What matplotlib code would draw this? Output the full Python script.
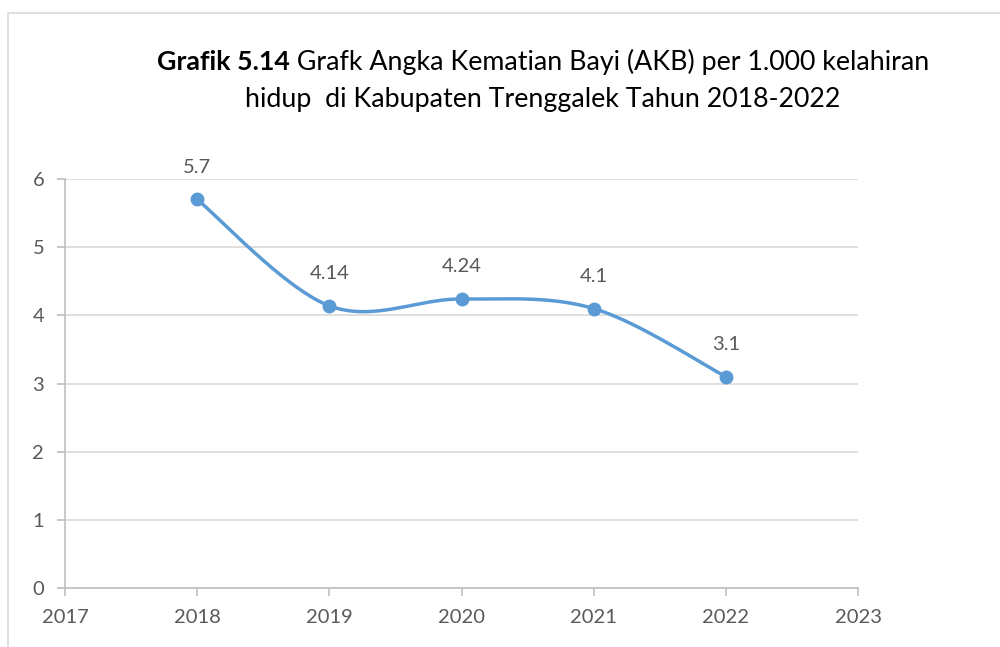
import numpy as np
import matplotlib
matplotlib.use("Agg")
import matplotlib.pyplot as plt
from matplotlib.patches import Rectangle

years = [2018, 2019, 2020, 2021, 2022]
akb = [5.7, 4.14, 4.24, 4.1, 3.1]
labels = ["5.7", "4.14", "4.24", "4.1", "3.1"]

BLUE = "#5B9BD5"
GRID = "#D9D9D9"
TXT = "#595959"
plt.rcParams['font.family'] = ['Lato', 'DejaVu Sans']


def smooth(x, y, n=40):
    # Excel-like smoothed line: cubic bezier with catmull-rom control points
    x = np.asarray(x, float); y = np.asarray(y, float)
    px, py = [], []
    for i in range(len(x) - 1):
        x0, y0 = (x[i-1], y[i-1]) if i > 0 else (x[i], y[i])
        x3, y3 = (x[i+2], y[i+2]) if i + 2 < len(x) else (x[i+1], y[i+1])
        c1x = x[i] + (x[i+1] - x0) / 6; c1y = y[i] + (y[i+1] - y0) / 6
        c2x = x[i+1] - (x3 - x[i]) / 6; c2y = y[i+1] - (y3 - y[i]) / 6
        t = np.linspace(0, 1, n)
        bx = (1-t)**3*x[i] + 3*(1-t)**2*t*c1x + 3*(1-t)*t**2*c2x + t**3*x[i+1]
        by = (1-t)**3*y[i] + 3*(1-t)**2*t*c1y + 3*(1-t)*t**2*c2y + t**3*y[i+1]
        px.extend(bx); py.extend(by)
    return px, py


fig = plt.figure(figsize=(10, 6.47), dpi=100)
fig.patches.append(Rectangle((0.008, -0.1), 1.1, 1.08, transform=fig.transFigure,
                             fill=False, edgecolor="#D9D9D9", linewidth=1.2))
ax = fig.add_axes([0.065, 0.0912, 0.793, 0.6321])

sx, sy = smooth(years, akb)
ax.plot(sx, sy, color=BLUE, linewidth=2.5, zorder=3)
ax.plot(years, akb, 'o', color=BLUE, markersize=9, zorder=4)
for x, y, s in zip(years, akb, labels):
    ax.annotate(s, (x, y), xytext=(0, 17), textcoords="offset points",
                ha="center", va="bottom", fontsize=14.5, color=TXT)

ax.set_xlim(2017, 2023)
ax.set_ylim(0, 6)
ax.set_xticks(range(2017, 2024))
ax.set_yticks(range(0, 7))
ax.grid(axis='y', color=GRID, linewidth=1.2)
ax.set_axisbelow(True)
for sp in ['top', 'right']:
    ax.spines[sp].set_visible(False)
for sp in ['left', 'bottom']:
    ax.spines[sp].set_color("#BFBFBF")
    ax.spines[sp].set_linewidth(1.2)
ax.tick_params(axis='both', colors="#BFBFBF", labelcolor=TXT, labelsize=14.5,
               length=6, width=1.2)
ax.tick_params(axis='x', pad=9)
ax.tick_params(axis='y', pad=9)

# title: bold lead-in plus regular text, centred as one line
fs = 19.3
cx = 0.543
y1 = 1 - 62/647
t_bold = fig.text(0, y1, "Grafik 5.14", fontsize=fs, fontweight="bold", va="center")
t_rest = fig.text(0, y1, " Grafk Angka Kematian Bayi (AKB) per 1.000 kelahiran",
                  fontsize=fs, va="center")
r = fig.canvas.get_renderer()
wb = t_bold.get_window_extent(r).width / fig.bbox.width
wr = t_rest.get_window_extent(r).width / fig.bbox.width
x0 = cx - (wb + wr) / 2
t_bold.set_x(x0)
t_rest.set_x(x0 + wb)
fig.text(cx, 1 - 100/647, "hidup  di Kabupaten Trenggalek Tahun 2018-2022",
         ha="center", va="center", fontsize=fs, color="black")

fig.savefig("out.png", dpi=100)
